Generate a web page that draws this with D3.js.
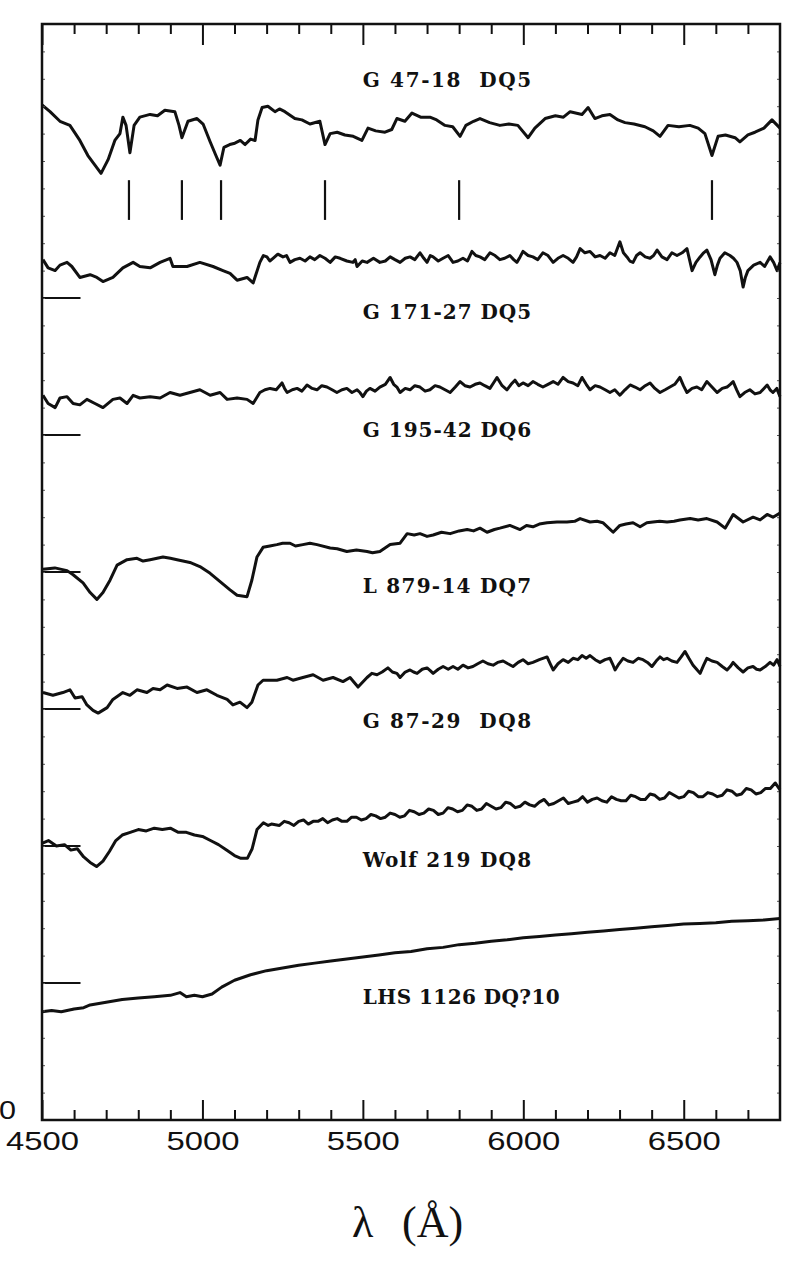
<!DOCTYPE html>
<html>
<head>
<meta charset="utf-8">
<script src="https://cdn.jsdelivr.net/npm/d3@7"></script>
<style>
	body { margin: 0; background: #fff; }
	svg { display: block; }
	.spec { fill: none; stroke: #111; stroke-width: 3; stroke-linejoin: round; }
	.star { font-family: "DejaVu Serif", "Liberation Serif", serif; font-weight: bold; font-size: 20px; fill: #111; white-space: pre; }
	.tick-label { font-family: "Liberation Sans", Arial, sans-serif; font-size: 25px; fill: #111; }
</style>
</head>
<body>
<script>
// DQ white dwarf spectra, flux vs wavelength
const width = 792;
const height = 1275;
const margin = {top: 24, right: 12, bottom: 155, left: 42};

// wavelength ticks
const majorTicks = [4500, 5000, 5500, 6000, 6500];
const tickLabels = ['4500', '5000', '5500', '6000', '6500'];
const minorTicks = [4600, 4700, 4800, 4900, 5100, 5200, 5300, 5400, 5600, 5700, 5800, 5900,
	6100, 6200, 6300, 6400, 6600, 6700];

// star names and where their labels sit (label at 5500 A)
const starNames = ['G 47-18  DQ5', 'G 171-27 DQ5', 'G 195-42 DQ6', 'L 879-14 DQ7',
	'G 87-29  DQ8', 'Wolf 219 DQ8', 'LHS 1126 DQ?10'];
const labelFlux = [7.54, 5.85, 4.985, 3.85, 2.86, 1.85, 0.85];

// zero level markers
const zeroLevels = [6, 5, 4, 3, 2, 1];

// line identifications under G 47-18
const lineIds = [4771, 4936, 5058, 5382, 5800, 6588];

// spectra: [wavelength, flux]
const g4718 = [[4500,7.41],[4525,7.36],[4556,7.29],[4587,7.26],[4618,7.15],[4643,7.04],[4665,6.97],[4684,6.91],
	[4706,7.01],[4727,7.15],[4743,7.20],[4752,7.32],[4762,7.26],[4774,7.06],[4787,7.26],[4805,7.32],[4837,7.34],
	[4860,7.33],[4883,7.37],[4914,7.36],[4927,7.26],[4936,7.17],[4955,7.29],[4983,7.31],[5002,7.27],[5024,7.14],
	[5042,7.04],[5055,6.97],[5067,7.10],[5085,7.12],[5101,7.13],[5118,7.15],[5133,7.12],[5150,7.16],[5164,7.15],
	[5173,7.30],[5186,7.39],[5204,7.40],[5226,7.36],[5240,7.38],[5257,7.36],[5288,7.31],[5310,7.30],[5335,7.27],
	[5366,7.29],[5382,7.12],[5398,7.20],[5420,7.21],[5444,7.19],[5470,7.18],[5497,7.15],[5516,7.24],[5540,7.22],
	[5569,7.21],[5590,7.23],[5606,7.31],[5631,7.29],[5653,7.35],[5680,7.32],[5709,7.32],[5730,7.30],[5756,7.26],
	[5780,7.25],[5803,7.18],[5821,7.26],[5845,7.29],[5865,7.31],[5895,7.28],[5927,7.26],[5955,7.27],[5983,7.26],
	[6015,7.17],[6036,7.24],[6068,7.31],[6100,7.33],[6125,7.32],[6146,7.36],[6183,7.34],[6202,7.39],[6223,7.31],
	[6245,7.33],[6270,7.34],[6295,7.30],[6317,7.28],[6345,7.27],[6379,7.25],[6405,7.22],[6426,7.18],[6451,7.26],
	[6485,7.25],[6519,7.26],[6545,7.24],[6566,7.20],[6588,7.04],[6607,7.18],[6630,7.19],[6660,7.17],[6675,7.14],
	[6700,7.19],[6722,7.21],[6750,7.24],[6775,7.30],[6800,7.24]];

const g17127 = [[4503,6.28],[4519,6.22],[4541,6.20],[4556,6.24],[4578,6.26],[4593,6.23],[4618,6.15],[4650,6.17],
	[4671,6.15],[4690,6.12],[4721,6.15],[4752,6.22],[4784,6.26],[4805,6.23],[4837,6.22],[4868,6.26],[4899,6.29],
	[4908,6.23],[4952,6.23],[4992,6.26],[5033,6.23],[5064,6.20],[5086,6.18],[5108,6.13],[5139,6.15],[5158,6.11],
	[5179,6.26],[5190,6.31],[5201,6.30],[5210,6.27],[5220,6.29],[5235,6.32],[5251,6.30],[5262,6.31],[5273,6.26],
	[5288,6.28],[5304,6.29],[5320,6.27],[5335,6.30],[5350,6.28],[5366,6.31],[5382,6.29],[5398,6.26],[5414,6.30],
	[5429,6.29],[5450,6.27],[5469,6.26],[5476,6.28],[5482,6.23],[5498,6.27],[5513,6.26],[5533,6.29],[5553,6.26],
	[5570,6.27],[5585,6.30],[5600,6.28],[5616,6.26],[5632,6.29],[5647,6.30],[5662,6.28],[5678,6.33],[5690,6.29],
	[5700,6.26],[5710,6.31],[5719,6.30],[5735,6.27],[5750,6.29],[5766,6.31],[5781,6.26],[5796,6.27],[5812,6.29],
	[5826,6.27],[5840,6.34],[5852,6.31],[5865,6.30],[5880,6.28],[5896,6.33],[5912,6.31],[5927,6.28],[5942,6.29],
	[5958,6.31],[5970,6.28],[5980,6.26],[5990,6.30],[5999,6.34],[6015,6.31],[6030,6.30],[6045,6.28],[6061,6.33],
	[6077,6.31],[6093,6.26],[6108,6.29],[6124,6.31],[6140,6.29],[6155,6.26],[6166,6.30],[6177,6.36],[6192,6.33],
	[6208,6.34],[6224,6.30],[6239,6.31],[6255,6.29],[6270,6.33],[6285,6.31],[6301,6.41],[6312,6.33],[6323,6.30],
	[6332,6.27],[6342,6.26],[6353,6.31],[6364,6.33],[6380,6.30],[6395,6.29],[6406,6.31],[6417,6.35],[6432,6.30],
	[6448,6.28],[6463,6.33],[6479,6.31],[6495,6.33],[6510,6.36],[6518,6.28],[6526,6.20],[6538,6.26],[6551,6.30],
	[6562,6.33],[6572,6.35],[6585,6.28],[6597,6.17],[6605,6.24],[6613,6.29],[6628,6.33],[6644,6.31],[6655,6.29],
	[6666,6.26],[6676,6.20],[6685,6.08],[6692,6.15],[6700,6.20],[6718,6.24],[6738,6.26],[6752,6.23],[6769,6.30],
	[6780,6.26],[6791,6.20],[6800,6.26]];

const g19542 = [[4503,5.29],[4519,5.23],[4541,5.20],[4556,5.27],[4578,5.28],[4597,5.23],[4618,5.22],[4640,5.26],
	[4665,5.23],[4690,5.20],[4721,5.26],[4743,5.27],[4765,5.23],[4784,5.29],[4805,5.27],[4837,5.28],[4868,5.27],
	[4899,5.31],[4930,5.29],[4961,5.31],[4992,5.33],[5024,5.29],[5055,5.31],[5077,5.26],[5108,5.27],[5139,5.26],
	[5158,5.23],[5179,5.31],[5195,5.33],[5211,5.34],[5230,5.33],[5248,5.38],[5256,5.34],[5264,5.31],[5280,5.33],
	[5295,5.34],[5310,5.32],[5326,5.365],[5342,5.34],[5357,5.33],[5372,5.36],[5388,5.35],[5404,5.33],[5419,5.31],
	[5435,5.33],[5450,5.34],[5466,5.31],[5482,5.33],[5491,5.31],[5500,5.28],[5511,5.32],[5522,5.34],[5538,5.32],
	[5553,5.35],[5570,5.37],[5585,5.42],[5596,5.37],[5606,5.35],[5616,5.31],[5632,5.34],[5647,5.33],[5662,5.36],
	[5678,5.35],[5694,5.32],[5709,5.33],[5725,5.36],[5740,5.35],[5756,5.33],[5772,5.31],[5788,5.35],[5803,5.39],
	[5818,5.36],[5834,5.35],[5850,5.37],[5865,5.38],[5880,5.36],[5896,5.34],[5907,5.38],[5918,5.42],[5934,5.36],
	[5949,5.33],[5962,5.37],[5974,5.40],[5986,5.36],[5999,5.38],[6015,5.36],[6030,5.39],[6045,5.37],[6061,5.35],
	[6077,5.37],[6093,5.39],[6108,5.37],[6124,5.42],[6140,5.39],[6155,5.38],[6170,5.36],[6183,5.42],[6196,5.37],
	[6208,5.33],[6224,5.36],[6239,5.35],[6255,5.33],[6270,5.31],[6285,5.33],[6301,5.29],[6317,5.33],[6333,5.365],
	[6348,5.35],[6364,5.33],[6380,5.36],[6395,5.38],[6410,5.34],[6426,5.31],[6442,5.33],[6457,5.35],[6472,5.37],
	[6488,5.42],[6499,5.36],[6510,5.31],[6526,5.34],[6541,5.35],[6556,5.33],[6572,5.39],[6588,5.35],[6604,5.31],
	[6620,5.34],[6635,5.35],[6645,5.37],[6654,5.39],[6665,5.33],[6675,5.28],[6690,5.31],[6706,5.33],[6722,5.30],
	[6738,5.31],[6750,5.34],[6760,5.365],[6769,5.33],[6778,5.31],[6790,5.34],[6800,5.28]];

const l87914 = [[4503,4.02],[4540,4.03],[4578,4.01],[4597,3.98],[4628,3.92],[4650,3.85],[4671,3.80],[4690,3.85],
	[4712,3.94],[4734,4.05],[4765,4.09],[4796,4.10],[4815,4.08],[4837,4.09],[4877,4.11],[4900,4.10],[4921,4.09],
	[4961,4.07],[4992,4.04],[5024,3.99],[5055,3.93],[5086,3.87],[5108,3.83],[5139,3.82],[5154,3.94],[5170,4.11],
	[5189,4.18],[5210,4.19],[5232,4.20],[5250,4.21],[5273,4.21],[5290,4.19],[5313,4.20],[5335,4.21],[5357,4.20],
	[5398,4.175],[5420,4.17],[5450,4.15],[5480,4.16],[5513,4.15],[5530,4.14],[5553,4.15],[5585,4.20],[5616,4.21],
	[5638,4.28],[5660,4.27],[5678,4.28],[5700,4.26],[5719,4.27],[5745,4.29],[5772,4.28],[5800,4.30],[5825,4.31],
	[5845,4.30],[5865,4.32],[5887,4.29],[5910,4.31],[5927,4.32],[5958,4.34],[5990,4.31],[6010,4.34],[6030,4.33],
	[6050,4.35],[6074,4.36],[6105,4.365],[6136,4.365],[6160,4.37],[6177,4.39],[6208,4.365],[6230,4.37],[6248,4.36],
	[6280,4.29],[6301,4.34],[6320,4.35],[6342,4.36],[6364,4.33],[6385,4.36],[6404,4.365],[6425,4.37],[6448,4.365],
	[6470,4.37],[6488,4.38],[6520,4.39],[6545,4.38],[6572,4.39],[6604,4.365],[6629,4.32],[6654,4.42],[6685,4.365],
	[6716,4.40],[6738,4.38],[6760,4.42],[6778,4.40],[6800,4.43]];

const g8729 = [[4503,3.12],[4534,3.10],[4565,3.12],[4587,3.14],[4603,3.08],[4625,3.09],[4640,3.03],[4659,2.99],
	[4675,2.97],[4703,3.01],[4721,3.07],[4752,3.12],[4774,3.10],[4796,3.14],[4827,3.12],[4846,3.15],[4868,3.14],
	[4890,3.175],[4921,3.15],[4952,3.16],[4983,3.12],[5014,3.14],[5045,3.10],[5077,3.07],[5095,3.03],[5117,3.05],
	[5139,3.01],[5154,3.05],[5173,3.175],[5189,3.21],[5232,3.21],[5264,3.23],[5282,3.21],[5313,3.23],[5345,3.25],
	[5376,3.21],[5407,3.23],[5438,3.20],[5460,3.23],[5485,3.16],[5513,3.23],[5528,3.26],[5544,3.25],[5560,3.27],
	[5578,3.30],[5592,3.27],[5606,3.26],[5616,3.23],[5632,3.27],[5647,3.285],[5658,3.27],[5669,3.26],[5685,3.29],
	[5700,3.30],[5710,3.28],[5719,3.26],[5735,3.29],[5750,3.31],[5766,3.29],[5781,3.31],[5796,3.29],[5812,3.32],
	[5828,3.30],[5843,3.31],[5858,3.33],[5874,3.35],[5890,3.33],[5906,3.32],[5920,3.34],[5937,3.35],[5952,3.33],
	[5968,3.31],[5984,3.34],[5999,3.36],[6015,3.33],[6030,3.34],[6050,3.36],[6074,3.38],[6084,3.33],[6093,3.285],
	[6108,3.33],[6124,3.36],[6140,3.34],[6155,3.37],[6170,3.36],[6183,3.39],[6196,3.37],[6208,3.39],[6224,3.36],
	[6239,3.34],[6255,3.36],[6270,3.37],[6278,3.33],[6286,3.285],[6298,3.33],[6311,3.37],[6326,3.35],[6342,3.34],
	[6358,3.37],[6373,3.36],[6387,3.34],[6401,3.31],[6414,3.35],[6426,3.38],[6437,3.36],[6448,3.37],[6463,3.35],
	[6479,3.34],[6492,3.38],[6504,3.42],[6516,3.37],[6529,3.32],[6540,3.29],[6551,3.26],[6562,3.32],[6572,3.37],
	[6588,3.35],[6604,3.34],[6620,3.31],[6635,3.285],[6645,3.31],[6654,3.34],[6670,3.30],[6685,3.27],[6700,3.30],
	[6716,3.31],[6727,3.29],[6738,3.285],[6754,3.31],[6769,3.34],[6780,3.32],[6791,3.36],[6800,3.31]];

const wolf219 = [[4500,2.02],[4520,2.04],[4545,2.00],[4570,2.01],[4590,1.97],[4610,1.98],[4630,1.92],[4650,1.88],
	[4670,1.85],[4690,1.89],[4710,1.96],[4730,2.04],[4750,2.08],[4775,2.10],[4800,2.12],[4825,2.11],[4850,2.13],
	[4875,2.12],[4900,2.13],[4925,2.10],[4950,2.10],[4975,2.08],[5000,2.07],[5025,2.04],[5050,2.01],[5075,1.97],
	[5100,1.93],[5120,1.91],[5140,1.91],[5155,1.98],[5170,2.12],[5190,2.17],[5205,2.15],[5215,2.16],[5240,2.15],
	[5255,2.18],[5270,2.17],[5285,2.15],[5300,2.18],[5315,2.19],[5330,2.16],[5345,2.18],[5360,2.18],[5375,2.20],
	[5390,2.17],[5405,2.19],[5420,2.20],[5435,2.18],[5450,2.18],[5465,2.21],[5480,2.21],[5495,2.19],[5510,2.20],
	[5525,2.23],[5540,2.22],[5555,2.20],[5570,2.21],[5585,2.24],[5600,2.23],[5615,2.21],[5630,2.22],[5645,2.26],
	[5660,2.25],[5675,2.23],[5690,2.24],[5705,2.27],[5720,2.26],[5735,2.23],[5750,2.24],[5765,2.28],[5780,2.27],
	[5795,2.25],[5810,2.26],[5825,2.30],[5840,2.29],[5855,2.26],[5870,2.27],[5885,2.31],[5900,2.29],[5915,2.27],
	[5930,2.28],[5945,2.32],[5960,2.31],[5975,2.28],[5990,2.29],[6005,2.32],[6020,2.30],[6035,2.29],[6050,2.32],
	[6065,2.34],[6080,2.30],[6095,2.31],[6110,2.33],[6125,2.35],[6140,2.31],[6155,2.32],[6170,2.33],[6185,2.36],
	[6200,2.32],[6215,2.34],[6230,2.35],[6245,2.33],[6260,2.32],[6275,2.36],[6290,2.34],[6305,2.33],[6320,2.33],
	[6335,2.37],[6350,2.36],[6365,2.34],[6380,2.34],[6395,2.38],[6410,2.37],[6425,2.34],[6440,2.35],[6455,2.39],
	[6470,2.37],[6485,2.35],[6500,2.36],[6515,2.40],[6530,2.39],[6545,2.36],[6560,2.36],[6575,2.39],[6590,2.38],
	[6605,2.36],[6620,2.37],[6635,2.41],[6650,2.40],[6665,2.37],[6680,2.38],[6695,2.42],[6710,2.41],[6725,2.38],
	[6740,2.39],[6755,2.42],[6770,2.42],[6785,2.46],[6800,2.41]];

const lhs1126 = [[4500,0.79],[4530,0.80],[4560,0.79],[4600,0.81],[4630,0.82],[4650,0.84],[4700,0.86],[4750,0.88],
	[4800,0.89],[4850,0.90],[4900,0.91],[4930,0.93],[4950,0.90],[4975,0.91],[5000,0.90],[5030,0.92],[5060,0.97],
	[5100,1.02],[5150,1.06],[5200,1.09],[5250,1.11],[5300,1.13],[5350,1.145],[5400,1.16],[5450,1.175],[5500,1.19],
	[5550,1.205],[5600,1.22],[5650,1.23],[5700,1.25],[5750,1.26],[5800,1.28],[5850,1.29],[5900,1.305],[5950,1.315],
	[6000,1.33],[6050,1.34],[6100,1.35],[6150,1.36],[6200,1.37],[6250,1.38],[6300,1.39],[6350,1.40],[6400,1.41],
	[6450,1.42],[6500,1.43],[6550,1.435],[6600,1.44],[6650,1.45],[6700,1.455],[6750,1.46],[6800,1.47]];

const spectra = [g4718, g17127, g19542, l87914, g8729, wolf219, lhs1126];

function draw(svg) {
	let x = d3.scaleLinear()
		.domain([4500, 6800])
		.range([margin.left, width - margin.right]);

	let y = d3.scaleLinear()
		.domain([0, 8])
		.range([height - margin.bottom, margin.top]);

	let line = d3.line()
		.x(d => x(d[0]))
		.y(d => y(d[1]));

	// spectra
	svg.selectAll('path.spec')
		.data(spectra)
		.join('path')
		.attr('class', 'spec')
		.attr('d', d => line(d));

	// zero level markers
	svg.selectAll('line.zero')
		.data(zeroLevels)
		.join('line')
		.attr('class', 'zero')
		.attr('x1', x(4500)).attr('x2', x(4620))
		.attr('y1', d => y(d)).attr('y2', d => y(d))
		.attr('stroke', '#111').attr('stroke-width', 2);

	// line ids
	svg.selectAll('line.ident')
		.data(lineIds)
		.join('line')
		.attr('class', 'ident')
		.attr('x1', d => x(d)).attr('x2', d => x(d))
		.attr('y1', y(6.86)).attr('y2', y(6.57))
		.attr('stroke', '#111').attr('stroke-width', 2.2);

	// star labels, typewriter-like spacing (14.35 px per character)
	svg.selectAll('text.star')
		.data(starNames)
		.join('text')
		.attr('class', 'star')
		.attr('x', x(5500))
		.attr('y', (d, i) => y(labelFlux[i]))
		.attr('textLength', d => d.length * 14.35 - 4)
		.attr('lengthAdjust', 'spacing')
		.text(d => d);

	// bottom axis
	let bottom = svg.append('g')
		.attr('transform', `translate(0, ${y(0)})`);
	bottom.append('g')
		.call(d3.axisBottom(x).tickValues(minorTicks).tickSizeInner(-10).tickSizeOuter(0).tickFormat(''));
	bottom.append('g')
		.call(d3.axisBottom(x).tickValues(majorTicks).tickSizeInner(-20).tickSizeOuter(0)
			.tickPadding(12).tickFormat((d, i) => tickLabels[i]));

	// top axis
	let top = svg.append('g')
		.attr('transform', `translate(0, ${y(8)})`);
	top.append('g')
		.call(d3.axisTop(x).tickValues(minorTicks).tickSizeInner(-10).tickSizeOuter(0).tickFormat(''));
	top.append('g')
		.call(d3.axisTop(x).tickValues(majorTicks).tickSizeInner(-21).tickSizeOuter(0).tickFormat(''));

	svg.selectAll('.domain').remove();
	svg.selectAll('.tick line').attr('stroke', '#111').attr('stroke-width', 2);

	// faint flux ticks, left and right
	let fluxTicks = d3.range(0.2, 8, 0.2);
	svg.append('g')
		.attr('transform', `translate(${x(4500)}, 0)`)
		.call(d3.axisLeft(y).tickValues(fluxTicks).tickSizeInner(-3).tickSizeOuter(0).tickFormat(''))
		.call(g => g.select('.domain').remove())
		.selectAll('.tick line').attr('stroke', '#555').attr('stroke-width', 1);
	svg.append('g')
		.attr('transform', `translate(${x(6800)}, 0)`)
		.call(d3.axisRight(y).tickValues(fluxTicks).tickSizeInner(-3).tickSizeOuter(0).tickFormat(''))
		.call(g => g.select('.domain').remove())
		.selectAll('.tick line').attr('stroke', '#555').attr('stroke-width', 1);

	svg.selectAll('.tick text')
		.attr('class', 'tick-label')
		.attr('font-family', null).attr('font-size', null)
		.attr('textLength', 73).attr('lengthAdjust', 'spacingAndGlyphs');

	// frame
	svg.append('rect')
		.attr('x', x(4500)).attr('y', y(8))
		.attr('width', x(6800) - x(4500)).attr('height', y(0) - y(8))
		.attr('fill', 'none').attr('stroke', '#111').attr('stroke-width', 2.5);

	// zero label on flux axis
	svg.append('text')
		.attr('class', 'tick-label')
		.attr('x', 16).attr('y', y(0) - 1)
		.attr('text-anchor', 'end')
		.attr('textLength', 17).attr('lengthAdjust', 'spacingAndGlyphs')
		.text('0');

	// x axis title
	svg.append('text')
		.attr('x', 352).attr('y', 1237)
		.style('font-family', '"Liberation Serif", "DejaVu Serif", serif')
		.style('font-size', '44px').attr('fill', '#111')
		.text('λ');
	svg.append('text')
		.attr('x', 402).attr('y', 1237)
		.style('font-family', '"Liberation Serif", "DejaVu Serif", serif')
		.style('font-size', '44px').attr('fill', '#111')
		.text('(Å)');

	return svg;
}

window.onload = function() {
	const svg = d3.select('body')
		.append('svg')
		.attr('width', width)
		.attr('height', height)
		.attr('viewBox', [0, 0, width, height]);

	draw(svg);
};
</script>
</body>
</html>
